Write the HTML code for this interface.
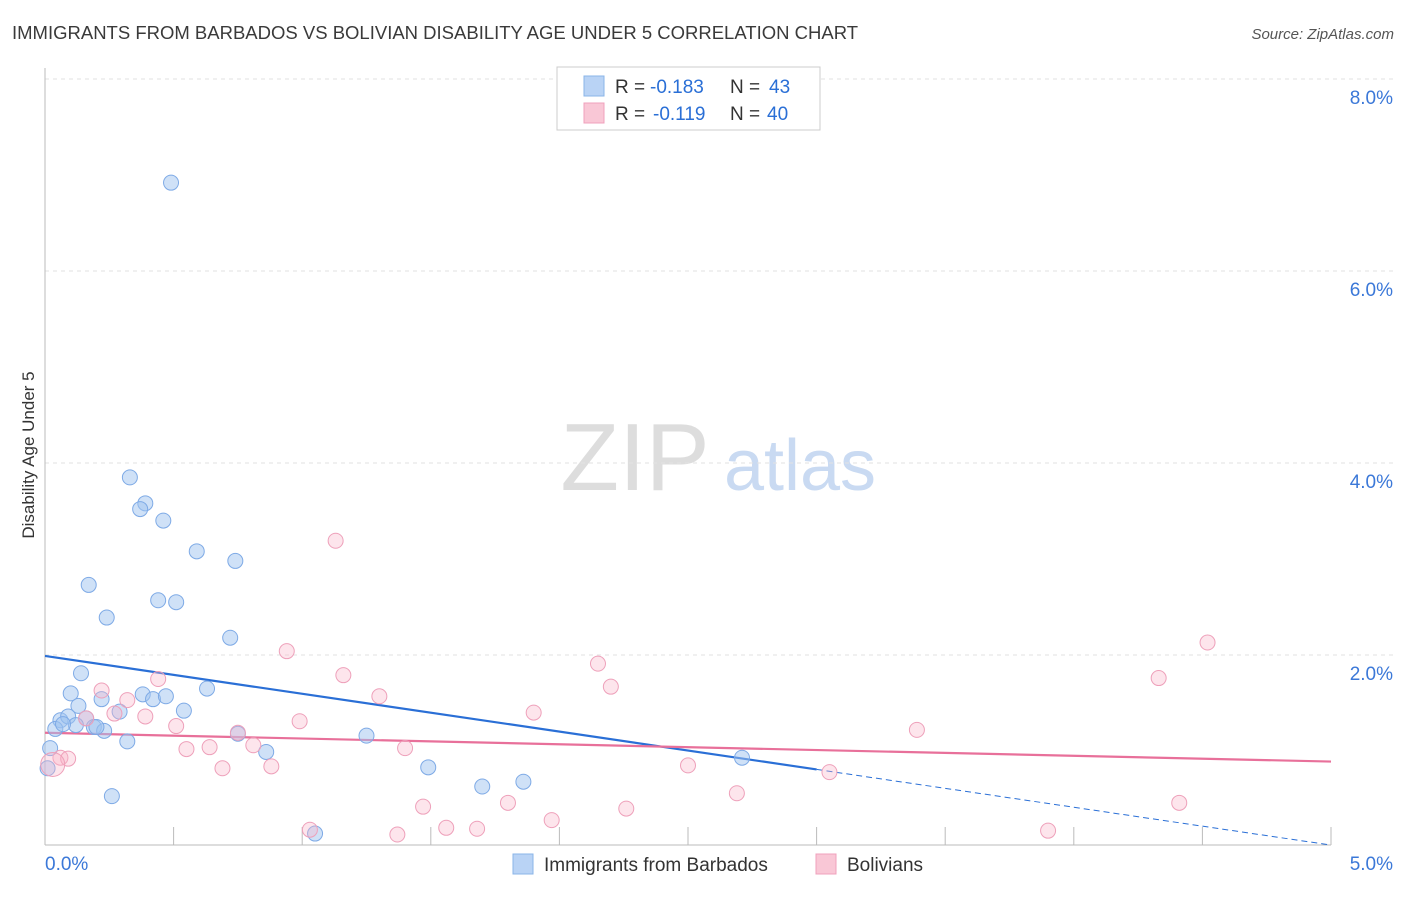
<!DOCTYPE html>
<html><head><meta charset="utf-8"><style>
body{margin:0;background:#fff;font-family:"Liberation Sans",sans-serif}
svg text{font-family:"Liberation Sans",sans-serif}
</style></head><body>
<svg id="chart" width="1406" height="892" xmlns="http://www.w3.org/2000/svg">
<text x="12" y="39" font-size="18.5" fill="#3a3a3a">IMMIGRANTS FROM BARBADOS VS BOLIVIAN DISABILITY AGE UNDER 5 CORRELATION CHART</text>
<text x="1394" y="39" font-size="15" fill="#555" font-style="italic" text-anchor="end">Source: ZipAtlas.com</text>
<text x="34" y="455" font-size="17" fill="#333" text-anchor="middle" transform="rotate(-90 34 455)">Disability Age Under 5</text>
<g><text x="635" y="490" font-size="96" fill="#ddd" font-family="Liberation Serif" text-anchor="middle">ZIP</text><text x="800" y="490" font-size="72" fill="#c9daf2" text-anchor="middle">atlas</text></g>
<g id="grid"></g><g id="axes"></g><g id="lines"></g><g id="pts"></g>
<g>
<rect x="557" y="67" width="263" height="63" fill="#fff" stroke="#ccc"/>
<rect x="584" y="76" width="20" height="20" fill="#b9d3f5" stroke="#8ab4e8"/>
<rect x="584" y="103" width="20" height="20" fill="#f9c7d6" stroke="#f0a0bc"/>
<text x="615" y="93" font-size="19" fill="#333">R = <tspan x="650" fill="#2a6fd6">-0.183</tspan><tspan x="730">N = </tspan><tspan x="769" fill="#2a6fd6">43</tspan></text>
<text x="615" y="120" font-size="19" fill="#333">R = <tspan x="653" fill="#2a6fd6">-0.119</tspan><tspan x="730">N = </tspan><tspan x="767" fill="#2a6fd6">40</tspan></text>
</g>
<g>
<rect x="513" y="854" width="20" height="20" fill="#b9d3f5" stroke="#8ab4e8"/>
<text x="544" y="871" font-size="19" fill="#333">Immigrants from Barbados</text>
<rect x="816" y="854" width="20" height="20" fill="#f9c7d6" stroke="#f0a0bc"/>
<text x="847" y="871" font-size="19" fill="#333">Bolivians</text>
</g>
</svg>
<script>
const blueX=[0.49,0.33,0.39,0.37,0.46,0.59,0.74,0.17,0.24,0.44,0.51,0.72,0.14,0.10,0.22,0.38,0.42,0.47,0.63,0.13,0.54,0.06,0.09,0.16,0.29,0.19,0.04,0.12,0.23,0.20,0.32,0.75,0.86,1.25,0.02,0.01,0.26,1.49,1.70,1.86,2.71,1.05,0.07];
const blueY=[6.92,3.85,3.58,3.52,3.40,3.08,2.98,2.73,2.39,2.57,2.55,2.18,1.81,1.60,1.54,1.59,1.54,1.57,1.65,1.47,1.42,1.32,1.36,1.34,1.41,1.25,1.23,1.27,1.21,1.25,1.10,1.18,0.99,1.16,1.03,0.82,0.53,0.83,0.63,0.68,0.93,0.14,1.28];
const pinkX=[1.13,0.94,1.16,0.44,0.22,0.32,1.30,2.15,2.20,1.90,4.52,4.33,3.39,0.39,0.16,0.27,0.51,0.99,0.75,0.81,0.55,0.64,1.40,0.88,0.69,0.06,0.09,0.03,2.50,3.05,2.69,2.26,1.80,1.47,1.97,1.56,1.68,1.37,1.03,3.90,4.41];
const pinkY=[3.19,2.04,1.79,1.75,1.63,1.53,1.57,1.91,1.67,1.40,2.13,1.76,1.22,1.36,1.34,1.39,1.26,1.31,1.19,1.06,1.02,1.04,1.03,0.84,0.82,0.93,0.92,0.86,0.85,0.78,0.56,0.40,0.46,0.42,0.28,0.20,0.19,0.13,0.18,0.17,0.46];
const blueTrend=[1.99,0.02];
const pinkTrend=[1.19,0.89];
const yTicks=[2,4,6,8];
const yTickLabels=["2.0%","4.0%","6.0%","8.0%"];
const xTicks=[0,0.5,1,1.5,2,2.5,3,3.5,4,4.5,5];
const xs=v=>45+v*257.2, ys=v=>847-v*96;
const NS="http://www.w3.org/2000/svg";
function mk(p,t,a){const e=document.createElementNS(NS,t);for(const k in a)e.setAttribute(k,a[k]);document.getElementById(p).appendChild(e);return e;}
yTicks.forEach((v,i)=>{
 const l=mk('grid','line',{x1:45,x2:1394,y1:ys(v),y2:ys(v),stroke:'#e2e2e2','stroke-dasharray':'4 4'});
 
 
 const t=mk('grid','text',{x:1393,y:ys(v)+25,'font-size':19,fill:'#3b78d8','text-anchor':'end'});t.textContent=yTickLabels[i];
 
 
});
const ax=mk('axes','line',{x1:45,x2:1331,y1:845,y2:845,stroke:'#bbb'});


const ay=mk('axes','line',{x1:45,x2:45,y1:68,y2:845,stroke:'#bbb'});


xTicks.forEach(v=>{const t=mk('axes','line',{x1:xs(v),x2:xs(v),y1:827,y2:845,stroke:'#bbb'});
 
 });
const x0=mk('axes','text',{x:45,y:870,'font-size':19,fill:'#3b78d8'});x0.textContent="0.0%";


const x1=mk('axes','text',{x:1393,y:870,'font-size':19,fill:'#3b78d8','text-anchor':'end'});x1.textContent="5.0%";


blueX.forEach((v,i)=>{const c=mk('pts','circle',{cx:xs(v),cy:ys(blueY[i]),r:7.5,fill:'rgba(160,196,240,0.5)',stroke:'#7eaae6','stroke-width':1});
 
 });
pinkX.forEach((v,i)=>{const c=mk('pts','circle',{cx:xs(v),cy:ys(pinkY[i]),r:i==27?12:7.5,fill:'rgba(248,180,200,0.35)',stroke:'#eea0ba','stroke-width':1});
 
 });
const bAt=x=>blueTrend[0]+(blueTrend[1]-blueTrend[0])*x/5;
const b1=mk('lines','line',{x1:xs(0),y1:ys(bAt(0)),x2:xs(3),y2:ys(bAt(3)),stroke:'#2a6fd6','stroke-width':2.2});


const b2=mk('lines','line',{x1:xs(3),y1:ys(bAt(3)),x2:xs(5),y2:ys(bAt(5)),stroke:'#2a6fd6','stroke-width':1,'stroke-dasharray':'6 4'});


const p1=mk('lines','line',{x1:xs(0),y1:ys(pinkTrend[0]),x2:xs(5),y2:ys(pinkTrend[1]),stroke:'#e8709a','stroke-width':2.2});


</script>
</body></html>
